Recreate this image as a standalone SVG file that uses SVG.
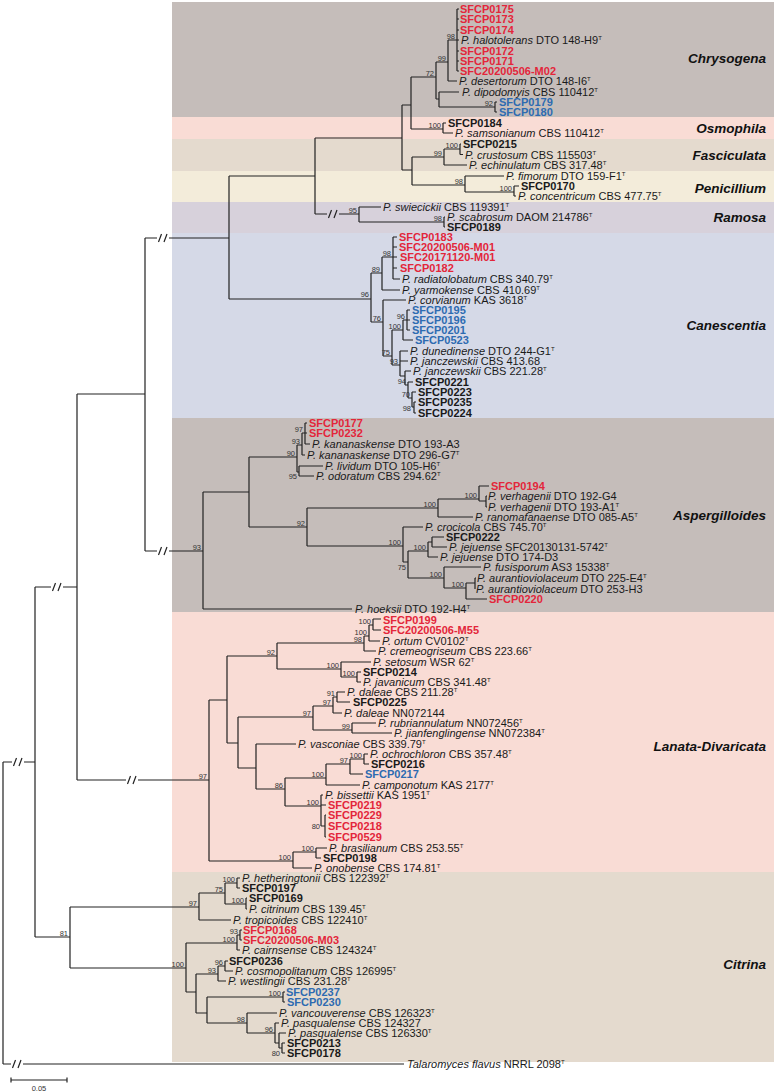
<svg xmlns="http://www.w3.org/2000/svg" width="777" height="1092" viewBox="0 0 777 1092">
<style>
.br{fill:none;stroke:#222;stroke-width:1.2}
.t{font-family:"Liberation Sans",Arial,sans-serif;font-size:11px;fill:#1a1a1a}
.b{font-weight:bold}
.r{font-weight:bold;fill:#e3263a}
.u{font-weight:bold;fill:#2d6bb1}
.i{font-style:italic}
.s{font-size:6px}
.bs{font-family:"Liberation Sans",Arial,sans-serif;font-size:7.5px;fill:#333;text-anchor:end}
.cl{font-family:"Liberation Sans",Arial,sans-serif;font-size:13.5px;font-weight:bold;font-style:italic;fill:#111;text-anchor:end}
</style>
<rect width="777" height="1092" fill="#fff"/>
<g id="clade-chrysogena"><rect x="172" y="2" width="602" height="115" fill="#c5bdba"/><text class="cl" x="766" y="63">Chrysogena</text></g>
<g id="clade-osmophila"><rect x="172" y="117" width="602" height="22" fill="#f9dcd5"/><text class="cl" x="766" y="133">Osmophila</text></g>
<g id="clade-fasciculata"><rect x="172" y="139" width="602" height="32" fill="#e4dace"/><text class="cl" x="766" y="160">Fasciculata</text></g>
<g id="clade-penicillium"><rect x="172" y="171" width="602" height="31" fill="#f3ecda"/><text class="cl" x="766" y="193">Penicillium</text></g>
<g id="clade-ramosa"><rect x="172" y="202" width="602" height="31" fill="#d7d1db"/><text class="cl" x="766" y="222">Ramosa</text></g>
<g id="clade-canescentia"><rect x="172" y="233" width="602" height="185" fill="#d5d9e7"/><text class="cl" x="766" y="330">Canescentia</text></g>
<g id="clade-aspergilloides"><rect x="172" y="418" width="602" height="194" fill="#c5bdba"/><text class="cl" x="766" y="520">Aspergilloides</text></g>
<g id="clade-lanata"><rect x="172" y="612" width="602" height="260" fill="#f9dcd5"/><text class="cl" x="766" y="751">Lanata-Divaricata</text></g>
<g id="clade-citrina"><rect x="172" y="872" width="602" height="190" fill="#e4dace"/><text class="cl" x="766" y="969">Citrina</text></g>

<g id="connectors">
<path class="br" d="M3 762V1064M3 762H12M24 762H35M3 1064H11M23 1064H404M35 587V937M35 587H51M63 587H77M35 937H70M77 394V780M77 394H145M77 780H126M138 780H209M145 238V551M145 238H157M169 238H229M145 551H157M169 551H203M229 176V299M229 176H315M229 299H371"/>
<path class="br" d="M13.5 766L16.5 758M19 766L22 758M12.5 1068L15.5 1060M18 1068L21 1060M52.5 591L55.5 583M58 591L61 583M127.5 784L130.5 776M133 784L136 776M158.5 242L161.5 234M164 242L167 234M158.5 555L161.5 547M164 555L167 547M328.5 218L331.5 210M334 218L337 210"/>
<path class="br" d="M315 138V214M315 138H402M315 214H327M339 214H359M402 105V170M402 105H411M402 170H412M411 77V129M411 77H436M411 129H443M436 62V99M436 62H448M436 99H439M448 40V81M448 40H457M448 81H457M457 9V71M457 9H459M457 19H459M457 30H459M457 40H459M457 51H459M457 61H459M457 71H459M439 92V107M439 92H459M439 107H495M495 102V112M495 102H497M495 112H497M443 123V133M443 123H446M443 133H453M412 157V185M412 157H444M412 185H465M444 149V165M444 149H460M444 165H467M460 144V154.5M460 144H461M460 154.5H463M465 176V192M465 176H504M465 192H514M514 186V196M514 186H519M514 196H516M359 207V222M359 207H381M359 222H444M444 217V227M444 217H445M444 227H445"/>
<path class="br" d="M371 273V322M371 273H382M371 322H383M382 257V290M382 257H393M382 290H400M393 237V279M393 237H397M393 247H397M393 257H397M393 268H397M393 279H400M383 300V356M383 300H406M383 356H392M392 330V365M392 330H403M392 365H400M403 320V340M403 320H407M403 340H413M407 310V330M407 310H410M407 320H410M407 330H410M400 351V376M400 351H408M400 361H408M400 376H405M405 371V385M405 371H411M405 385H408M408 382V398M408 382H413M408 398H412M412 392V407M412 392H416M412 407H414M414 402V413M414 402H416M414 413H416"/>
<path class="br" d="M203 492V609M203 492H249M203 609H352M249 457V527M249 457H297M249 527H307M297 445V472M297 445H302M297 472H299M302 433V455M302 433H305M302 455H305M305 423V444M305 423H307M305 433H307M305 444H310M299 466V476M299 466H323M299 476H314M307 508V546M307 508H438M307 546H403M438 499V517M438 499H479M438 517H473M479 486V501M479 486H489M479 501H486M486 496V507M486 496H487M486 507H487M403 527V562M403 527H423M403 562H408M408 551V578M408 551H428M408 578H444M428 542V557M428 542H432M428 557H438M432 537V547M432 537H444M432 547H447M444 567V588M444 567H481M444 588H466M466 583V599M466 583H475M466 599H487M475 578V589M475 578H476M475 589H475"/>
<path class="br" d="M209 700V861M209 700H227M209 861H293M227 656V743M227 656H277M227 743H238M277 643V669M277 643H364M277 669H341M364 636V651M364 636H369M364 651H376M369 625V641M369 625H373M369 641H380M373 619V630M373 619H381M373 630H381M341 662V677M341 662H371M341 677H357M357 672V682M357 672H361M357 682H361M238 717V768M238 717H313M238 768H256M313 706V730M313 706H333M313 730H352M333 697V713M333 697H337M333 713H342M337 692V702M337 692H345M337 702H350M352 723V733M352 723H376M352 733H392M256 744V789M256 744H296M256 789H285M285 778V806M285 778H326M285 806H321M326 764V785M326 764H350M326 785H360M350 759V774M350 759H364M350 774H363M364 754V764M364 754H368M364 764H369M321 795V826M321 795H323M321 805H326M321 826H325M325 815V837M325 815H326M325 837H326M293 852V868M293 852H316M293 868H312M316 848V858M316 848H327M316 858H321"/>
<path class="br" d="M70 907V968M70 907H199M70 968H186M199 893V920M199 893H225M199 920H231M225 883V904M225 883H237M225 904H246M237 878V888M237 878H240M237 888H240M246 898V909M246 898H247M246 909H247M186 943V992M186 943H237M186 992H196M237 935V950M237 935H240M237 950H240M240 930V940M240 930H242M240 940H242M196 974V1013M196 974H218M196 1013H207M218 966V981M218 966H225M218 981H226M225 961V971M225 961H228M225 971H233M207 997V1023M207 997H283M207 1023H247M283 992V1002M283 992H285M283 1002H285M247 1013V1033M247 1013H277M247 1033H275M275 1023V1043M275 1023H279M275 1043H279M279 1033V1048M279 1033H286M279 1048H282M282 1043V1053M282 1043H285M282 1053H285"/>
<path class="br" d="M11 1080H67M11 1077.5V1082.5M67 1077.5V1082.5"/>
</g>

<g id="support">
<text class="bs" x="455" y="38.5">98</text><text class="bs" x="446" y="60.5">99</text><text class="bs" x="434" y="75.5">72</text><text class="bs" x="493" y="105.5">92</text><text class="bs" x="441" y="127.5">100</text>
<text class="bs" x="458" y="147.5">100</text><text class="bs" x="442" y="155.5">99</text><text class="bs" x="463" y="183.5">98</text><text class="bs" x="512" y="190.5">100</text><text class="bs" x="357" y="212.5">95</text><text class="bs" x="442" y="220.5">98</text>
<text class="bs" x="391" y="255.5">98</text><text class="bs" x="380" y="271.5">89</text><text class="bs" x="369" y="296.5">96</text><text class="bs" x="381" y="320.5">76</text><text class="bs" x="405" y="318.5">96</text><text class="bs" x="401" y="328.5">100</text><text class="bs" x="390" y="354.5">75</text><text class="bs" x="398" y="363.5">93</text><text class="bs" x="406" y="383.5">94</text><text class="bs" x="410" y="396.5">70</text><text class="bs" x="411" y="411">98</text>
<text class="bs" x="201" y="549.5">93</text><text class="bs" x="303" y="431.5">97</text><text class="bs" x="300" y="443.5">93</text><text class="bs" x="295" y="455.5">90</text><text class="bs" x="297" y="479">95</text><text class="bs" x="305" y="525.5">92</text><text class="bs" x="436" y="506.5">100</text><text class="bs" x="477" y="497.5">100</text><text class="bs" x="401" y="544.5">100</text><text class="bs" x="406" y="570">75</text><text class="bs" x="426" y="549.5">100</text><text class="bs" x="442" y="576.5">100</text><text class="bs" x="464" y="586.5">100</text>
<text class="bs" x="207" y="778.5">97</text><text class="bs" x="275" y="654.5">92</text><text class="bs" x="362" y="641.5">98</text><text class="bs" x="367" y="634.5">100</text><text class="bs" x="371" y="623.5">100</text><text class="bs" x="339" y="667.5">100</text><text class="bs" x="355" y="675.5">100</text><text class="bs" x="311" y="715.5">97</text><text class="bs" x="331" y="704.5">97</text><text class="bs" x="335" y="695.5">91</text><text class="bs" x="350" y="728.5">99</text><text class="bs" x="283" y="787.5">86</text><text class="bs" x="324" y="776.5">100</text><text class="bs" x="348" y="762.5">97</text><text class="bs" x="362" y="757.5">100</text><text class="bs" x="319" y="804.5">100</text><text class="bs" x="320" y="828.5">80</text><text class="bs" x="291" y="859.5">100</text><text class="bs" x="314" y="850.5">100</text>
<text class="bs" x="68" y="935.5">81</text><text class="bs" x="197" y="905.5">97</text><text class="bs" x="223" y="891.5">75</text><text class="bs" x="235" y="881.5">100</text><text class="bs" x="244" y="902.5">100</text><text class="bs" x="184" y="966.5">100</text><text class="bs" x="235" y="941.5">100</text><text class="bs" x="238" y="933.5">93</text><text class="bs" x="216" y="972.5">93</text><text class="bs" x="223" y="964.5">96</text><text class="bs" x="281" y="995.5">100</text><text class="bs" x="245" y="1021.5">98</text><text class="bs" x="273" y="1031.5">96</text><text class="bs" x="280" y="1056">80</text>
</g>

<g id="tips">
<g id="n-SFCP0175"><text class="t r" x="460" y="13">SFCP0175</text></g>
<g id="n-SFCP0173"><text class="t r" x="460" y="23">SFCP0173</text></g>
<g id="n-SFCP0174"><text class="t r" x="460" y="34">SFCP0174</text></g>
<g id="n-halotolerans"><text class="t" x="461" y="44"><tspan class="i">P. halotolerans</tspan> DTO 148-H9<tspan class="s" dy="-4">T</tspan></text></g>
<g id="n-SFCP0172"><text class="t r" x="460" y="55">SFCP0172</text></g>
<g id="n-SFCP0171"><text class="t r" x="460" y="65">SFCP0171</text></g>
<g id="n-SFC20200506-M02"><text class="t r" x="460" y="75">SFC20200506-M02</text></g>
<g id="n-desertorum"><text class="t" x="459" y="85"><tspan class="i">P. desertorum</tspan> DTO 148-I6<tspan class="s" dy="-4">T</tspan></text></g>
<g id="n-dipodomyis"><text class="t" x="462" y="96"><tspan class="i">P. dipodomyis</tspan> CBS 110412<tspan class="s" dy="-4">T</tspan></text></g>
<g id="n-SFCP0179"><text class="t u" x="499" y="106">SFCP0179</text></g>
<g id="n-SFCP0180"><text class="t u" x="499" y="116">SFCP0180</text></g>
<g id="n-SFCP0184"><text class="t b" x="448" y="127">SFCP0184</text></g>
<g id="n-samsonianum"><text class="t" x="455" y="137"><tspan class="i">P. samsonianum</tspan> CBS 110412<tspan class="s" dy="-4">T</tspan></text></g>
<g id="n-SFCP0215"><text class="t b" x="463" y="148">SFCP0215</text></g>
<g id="n-crustosum"><text class="t" x="465" y="158.5"><tspan class="i">P. crustosum</tspan> CBS 115503<tspan class="s" dy="-4">T</tspan></text></g>
<g id="n-echinulatum"><text class="t" x="469" y="169"><tspan class="i">P. echinulatum</tspan> CBS 317.48<tspan class="s" dy="-4">T</tspan></text></g>
<g id="n-fimorum"><text class="t" x="506" y="180"><tspan class="i">P. fimorum</tspan> DTO 159-F1<tspan class="s" dy="-4">T</tspan></text></g>
<g id="n-SFCP0170"><text class="t b" x="521" y="190">SFCP0170</text></g>
<g id="n-concentricum"><text class="t" x="518" y="200"><tspan class="i">P. concentricum</tspan> CBS 477.75<tspan class="s" dy="-4">T</tspan></text></g>
<g id="n-swiecickii"><text class="t" x="383" y="211"><tspan class="i">P. swiecickii</tspan> CBS 119391<tspan class="s" dy="-4">T</tspan></text></g>
<g id="n-scabrosum"><text class="t" x="447" y="221"><tspan class="i">P. scabrosum</tspan> DAOM 214786<tspan class="s" dy="-4">T</tspan></text></g>
<g id="n-SFCP0189"><text class="t b" x="447" y="231">SFCP0189</text></g>
<g id="n-SFCP0183"><text class="t r" x="399" y="241">SFCP0183</text></g>
<g id="n-SFC20200506-M01"><text class="t r" x="399" y="251">SFC20200506-M01</text></g>
<g id="n-SFC20171120-M01"><text class="t r" x="400" y="261">SFC20171120-M01</text></g>
<g id="n-SFCP0182"><text class="t r" x="400" y="272">SFCP0182</text></g>
<g id="n-radiatolobatum"><text class="t" x="402" y="283"><tspan class="i">P. radiatolobatum</tspan> CBS 340.79<tspan class="s" dy="-4">T</tspan></text></g>
<g id="n-yarmokense"><text class="t" x="402" y="294"><tspan class="i">P. yarmokense</tspan> CBS 410.69<tspan class="s" dy="-4">T</tspan></text></g>
<g id="n-corvianum"><text class="t" x="408" y="304"><tspan class="i">P. corvianum</tspan> KAS 3618<tspan class="s" dy="-4">T</tspan></text></g>
<g id="n-SFCP0195"><text class="t u" x="412" y="314">SFCP0195</text></g>
<g id="n-SFCP0196"><text class="t u" x="412" y="324">SFCP0196</text></g>
<g id="n-SFCP0201"><text class="t u" x="412" y="334">SFCP0201</text></g>
<g id="n-SFCP0523"><text class="t u" x="415" y="344">SFCP0523</text></g>
<g id="n-dunedinense"><text class="t" x="410" y="355"><tspan class="i">P. dunedinense</tspan> DTO 244-G1<tspan class="s" dy="-4">T</tspan></text></g>
<g id="n-janczewskii1"><text class="t" x="410" y="365"><tspan class="i">P. janczewskii</tspan> CBS 413.68</text></g>
<g id="n-janczewskii2"><text class="t" x="413" y="375"><tspan class="i">P. janczewskii</tspan> CBS 221.28<tspan class="s" dy="-4">T</tspan></text></g>
<g id="n-SFCP0221"><text class="t b" x="415" y="386">SFCP0221</text></g>
<g id="n-SFCP0223"><text class="t b" x="418" y="396">SFCP0223</text></g>
<g id="n-SFCP0235"><text class="t b" x="418" y="406">SFCP0235</text></g>
<g id="n-SFCP0224"><text class="t b" x="418" y="417">SFCP0224</text></g>
<g id="n-SFCP0177"><text class="t r" x="309" y="427">SFCP0177</text></g>
<g id="n-SFCP0232"><text class="t r" x="309" y="437">SFCP0232</text></g>
<g id="n-kananaskense1"><text class="t" x="312" y="448"><tspan class="i">P. kananaskense</tspan> DTO 193-A3</text></g>
<g id="n-kananaskense2"><text class="t" x="307" y="459"><tspan class="i">P. kananaskense</tspan> DTO 296-G7<tspan class="s" dy="-4">T</tspan></text></g>
<g id="n-lividum"><text class="t" x="325" y="470"><tspan class="i">P. lividum</tspan> DTO 105-H6<tspan class="s" dy="-4">T</tspan></text></g>
<g id="n-odoratum"><text class="t" x="316" y="480"><tspan class="i">P. odoratum</tspan> CBS 294.62<tspan class="s" dy="-4">T</tspan></text></g>
<g id="n-SFCP0194"><text class="t r" x="491" y="490">SFCP0194</text></g>
<g id="n-verhagenii1"><text class="t" x="488" y="500"><tspan class="i">P. verhagenii</tspan> DTO 192-G4</text></g>
<g id="n-verhagenii2"><text class="t" x="488" y="511"><tspan class="i">P. verhagenii</tspan> DTO 193-A1<tspan class="s" dy="-4">T</tspan></text></g>
<g id="n-ranomafanaense"><text class="t" x="475" y="521"><tspan class="i">P. ranomafanaense</tspan> DTO 085-A5<tspan class="s" dy="-4">T</tspan></text></g>
<g id="n-crocicola"><text class="t" x="425" y="531"><tspan class="i">P. crocicola</tspan> CBS 745.70<tspan class="s" dy="-4">T</tspan></text></g>
<g id="n-SFCP0222"><text class="t b" x="446" y="541">SFCP0222</text></g>
<g id="n-jejuense1"><text class="t" x="449" y="551"><tspan class="i">P. jejuense</tspan> SFC20130131-5742<tspan class="s" dy="-4">T</tspan></text></g>
<g id="n-jejuense2"><text class="t" x="440" y="561"><tspan class="i">P. jejuense</tspan> DTO 174-D3</text></g>
<g id="n-fusisporum"><text class="t" x="483" y="571"><tspan class="i">P. fusisporum</tspan> AS3 15338<tspan class="s" dy="-4">T</tspan></text></g>
<g id="n-aurantioviolaceum1"><text class="t" x="477" y="582"><tspan class="i">P. aurantioviolaceum</tspan> DTO 225-E4<tspan class="s" dy="-4">T</tspan></text></g>
<g id="n-aurantioviolaceum2"><text class="t" x="476" y="593"><tspan class="i">P. aurantioviolaceum</tspan> DTO 253-H3</text></g>
<g id="n-SFCP0220"><text class="t r" x="489" y="603">SFCP0220</text></g>
<g id="n-hoeksii"><text class="t" x="355" y="612.5"><tspan class="i">P. hoeksii</tspan> DTO 192-H4<tspan class="s" dy="-4">T</tspan></text></g>
<g id="n-SFCP0199"><text class="t r" x="383" y="623.5">SFCP0199</text></g>
<g id="n-SFC20200506-M55"><text class="t r" x="383" y="634">SFC20200506-M55</text></g>
<g id="n-ortum"><text class="t" x="382" y="645"><tspan class="i">P. ortum</tspan> CV0102<tspan class="s" dy="-4">T</tspan></text></g>
<g id="n-cremeogriseum"><text class="t" x="378" y="655"><tspan class="i">P. cremeogriseum</tspan> CBS 223.66<tspan class="s" dy="-4">T</tspan></text></g>
<g id="n-setosum"><text class="t" x="373" y="666"><tspan class="i">P. setosum</tspan> WSR 62<tspan class="s" dy="-4">T</tspan></text></g>
<g id="n-SFCP0214"><text class="t b" x="363" y="676">SFCP0214</text></g>
<g id="n-javanicum"><text class="t" x="363" y="686"><tspan class="i">P. javanicum</tspan> CBS 341.48<tspan class="s" dy="-4">T</tspan></text></g>
<g id="n-daleae1"><text class="t" x="347" y="696"><tspan class="i">P. daleae</tspan> CBS 211.28<tspan class="s" dy="-4">T</tspan></text></g>
<g id="n-SFCP0225"><text class="t b" x="353" y="706">SFCP0225</text></g>
<g id="n-daleae2"><text class="t" x="344" y="717"><tspan class="i">P. daleae</tspan> NN072144</text></g>
<g id="n-rubriannulatum"><text class="t" x="378" y="727"><tspan class="i">P. rubriannulatum</tspan> NN072456<tspan class="s" dy="-4">T</tspan></text></g>
<g id="n-jianfenglingense"><text class="t" x="394" y="737"><tspan class="i">P. jianfenglingense</tspan> NN072384<tspan class="s" dy="-4">T</tspan></text></g>
<g id="n-vasconiae"><text class="t" x="298" y="748"><tspan class="i">P. vasconiae</tspan> CBS 339.79<tspan class="s" dy="-4">T</tspan></text></g>
<g id="n-ochrochloron"><text class="t" x="370" y="758"><tspan class="i">P. ochrochloron</tspan> CBS 357.48<tspan class="s" dy="-4">T</tspan></text></g>
<g id="n-SFCP0216"><text class="t b" x="371" y="768">SFCP0216</text></g>
<g id="n-SFCP0217"><text class="t u" x="365" y="778">SFCP0217</text></g>
<g id="n-camponotum"><text class="t" x="362" y="789"><tspan class="i">P. camponotum</tspan> KAS 2177<tspan class="s" dy="-4">T</tspan></text></g>
<g id="n-bissettii"><text class="t" x="325" y="799"><tspan class="i">P. bissettii</tspan> KAS 1951<tspan class="s" dy="-4">T</tspan></text></g>
<g id="n-SFCP0219"><text class="t r" x="328" y="809">SFCP0219</text></g>
<g id="n-SFCP0229"><text class="t r" x="328" y="819">SFCP0229</text></g>
<g id="n-SFCP0218"><text class="t r" x="328" y="830">SFCP0218</text></g>
<g id="n-SFCP0529"><text class="t r" x="328" y="841">SFCP0529</text></g>
<g id="n-brasilianum"><text class="t" x="329" y="852"><tspan class="i">P. brasilianum</tspan> CBS 253.55<tspan class="s" dy="-4">T</tspan></text></g>
<g id="n-SFCP0198"><text class="t b" x="323" y="862">SFCP0198</text></g>
<g id="n-onobense"><text class="t" x="314" y="872"><tspan class="i">P. onobense</tspan> CBS 174.81<tspan class="s" dy="-4">T</tspan></text></g>
<g id="n-hetheringtonii"><text class="t" x="242" y="882"><tspan class="i">P. hetheringtonii</tspan> CBS 122392<tspan class="s" dy="-4">T</tspan></text></g>
<g id="n-SFCP0197"><text class="t b" x="242" y="892">SFCP0197</text></g>
<g id="n-SFCP0169"><text class="t b" x="249" y="902">SFCP0169</text></g>
<g id="n-citrinum"><text class="t" x="249" y="913"><tspan class="i">P. citrinum</tspan> CBS 139.45<tspan class="s" dy="-4">T</tspan></text></g>
<g id="n-tropicoides"><text class="t" x="233" y="924"><tspan class="i">P. tropicoides</tspan> CBS 122410<tspan class="s" dy="-4">T</tspan></text></g>
<g id="n-SFCP0168"><text class="t r" x="243" y="934">SFCP0168</text></g>
<g id="n-SFC20200506-M03"><text class="t r" x="243" y="944">SFC20200506-M03</text></g>
<g id="n-cairnsense"><text class="t" x="242" y="954"><tspan class="i">P. cairnsense</tspan> CBS 124324<tspan class="s" dy="-4">T</tspan></text></g>
<g id="n-SFCP0236"><text class="t b" x="229" y="965">SFCP0236</text></g>
<g id="n-cosmopolitanum"><text class="t" x="235" y="975"><tspan class="i">P. cosmopolitanum</tspan> CBS 126995<tspan class="s" dy="-4">T</tspan></text></g>
<g id="n-westlingii"><text class="t" x="228" y="985"><tspan class="i">P. westlingii</tspan> CBS 231.28<tspan class="s" dy="-4">T</tspan></text></g>
<g id="n-SFCP0237"><text class="t u" x="286" y="996">SFCP0237</text></g>
<g id="n-SFCP0230"><text class="t u" x="287" y="1006">SFCP0230</text></g>
<g id="n-vancouverense"><text class="t" x="279" y="1017"><tspan class="i">P. vancouverense</tspan> CBS 126323<tspan class="s" dy="-4">T</tspan></text></g>
<g id="n-pasqualense1"><text class="t" x="281" y="1027"><tspan class="i">P. pasqualense</tspan> CBS 124327</text></g>
<g id="n-pasqualense2"><text class="t" x="288" y="1037"><tspan class="i">P. pasqualense</tspan> CBS 126330<tspan class="s" dy="-4">T</tspan></text></g>
<g id="n-SFCP0213"><text class="t b" x="287" y="1047">SFCP0213</text></g>
<g id="n-SFCP0178"><text class="t b" x="287" y="1057">SFCP0178</text></g>
<g id="n-talaromyces"><text class="t" x="407" y="1068"><tspan class="i">Talaromyces flavus</tspan> NRRL 2098<tspan class="s" dy="-4">T</tspan></text></g>
</g>
<g id="scale"><text class="bs" x="39" y="1091" style="text-anchor:middle">0.05</text></g>
</svg>
